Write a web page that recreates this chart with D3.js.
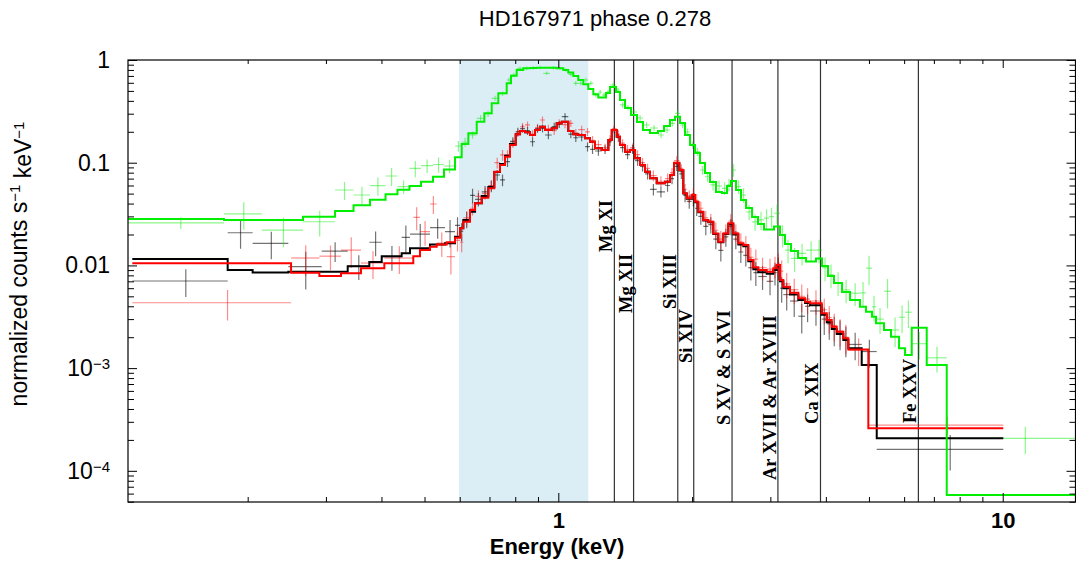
<!DOCTYPE html>
<html lang="en">
<head>
<meta charset="UTF-8">
<title>HD167971 phase 0.278</title>
<script src="https://d3js.org/d3.v7.min.js"></script>
<style>
  body { margin: 0; background: #fff; }
  svg { display: block; font-family: "Liberation Sans", Arial, sans-serif; }
  .tick line { stroke: #000; }
</style>
</head>
<body>
<svg id="chart" width="1076" height="562"></svg>
<script>
// ---- data (energies in keV, values in normalized counts s^-1 keV^-1, errors relative) ----

// bin edges shared by data sets 1 (black) and 2 (red) above 0.58 keV
const sharedEdges = [0.5855, 0.6009, 0.6113, 0.6329, 0.6496, 0.6725, 0.6959, 0.7178, 0.7393, 0.7587,
  0.7786, 0.8019, 0.8201, 0.8415, 0.8636, 0.8864, 0.9095, 0.9334, 0.9664, 0.9917,
  1.0178, 1.053, 1.0808, 1.109, 1.1483, 1.1785, 1.2095, 1.2522, 1.296, 1.319,
  1.3535, 1.3768, 1.413, 1.45, 1.4882, 1.5271, 1.5671, 1.6083, 1.6652, 1.7385,
  1.7838, 1.8214, 1.8723, 1.9112, 1.9451, 1.9962, 2.0305, 2.0654, 2.1194, 2.175,
  2.2324, 2.2909, 2.3514, 2.413, 2.4764, 2.541, 2.608, 2.676, 2.747, 2.8184,
  2.944, 3.046, 3.100, 3.154, 3.2085, 3.322, 3.468, 3.592, 3.685, 3.915,
  4.018, 4.123, 4.231, 4.379, 4.494];

// black
const blackLowEdges = [0.110, 0.1803, 0.2052, 0.2469, 0.2935, 0.3358, 0.3756, 0.4005, 0.4441, 0.4637, 0.5144, 0.5559];
const blackHighEdges = [4.816, 5.206, 10.03];
const blackModel = [0.01154, 0.00902, 0.00853, 0.00868, 0.00868, 0.0098, 0.01079, 0.0123, 0.0131, 0.0147, 0.0160, 0.0164,
  0.0190, 0.0230, 0.0277, 0.0333, 0.0404, 0.0474, 0.0580, 0.0812, 0.0971, 0.1170,
  0.1521, 0.1890, 0.2035, 0.1977, 0.1861, 0.2082, 0.2241, 0.2082, 0.2163, 0.2418,
  0.2507, 0.2035, 0.1890, 0.1861, 0.1728, 0.1601, 0.1381, 0.1330, 0.1663, 0.2082,
  0.1791, 0.1487, 0.1280, 0.1330, 0.1104, 0.0950, 0.0818, 0.0705, 0.0630, 0.0653,
  0.0759, 0.0990, 0.0840, 0.0500, 0.0446, 0.0480, 0.0413, 0.0330, 0.0274, 0.0263,
  0.0202, 0.0168, 0.0202, 0.0252, 0.0200, 0.0160, 0.0154, 0.0110, 0.0092, 0.0086,
  0.0083, 0.0090, 0.0098, 0.0070, 0.0060, 0.0052, 0.0046, 0.0043, 0.0041, 0.0033,
  0.0028, 0.0024, 0.00215, 0.00188,
  0.00156, 0.00107, 2.07e-4];
const blackData = [0.00705, 0.0208, 0.0164, 0.00971, 0.0138, 0.00987, 0.0168, 0.01216, 0.01878, 0.0202, 0.0233, 0.0213,
  0.0245, 0.0215, 0.0280, 0.048, 0.044, 0.052, 0.0593, 0.0759, 0.0679, 0.1023,
  0.161, 0.2007, 0.215, 0.205, 0.160, 0.215, 0.2163, 0.186, 0.225, 0.236,
  0.2805, 0.19, 0.175, 0.178, 0.1432, 0.135, 0.13, 0.135, 0.16, 0.21,
  0.175, 0.14, 0.12, 0.135, 0.105, 0.092, 0.078, 0.055, 0.052, 0.06,
  0.07, 0.092, 0.078, 0.048, 0.042, 0.044, 0.036, 0.030, 0.024, 0.025,
  0.018, 0.014, 0.019, 0.024, 0.018, 0.0135, 0.0125, 0.0095, 0.0085, 0.0078,
  0.0070, 0.0085, 0.0095, 0.0060, 0.0052, 0.0045, 0.0032, 0.0040, 0.0036, 0.0030,
  0.0027, 0.0024, 0.0022, 0.0019,
  0.0017, 0.00145, 1.62e-4];
const blackErr = [0.3, 0.3, 0.3, 0.4, 0.22, 0.27, 0.27, 0.27, 0.3, 0.25, 0.22, 0.3,
  0.2, 0.2, 0.18, 0.16, 0.15, 0.14, 0.13, 0.12, 0.13, 0.11,
  0.1, 0.09, 0.09, 0.09, 0.1, 0.09, 0.09, 0.09, 0.09, 0.08,
  0.08, 0.09, 0.09, 0.09, 0.1, 0.1, 0.1, 0.1, 0.09, 0.08,
  0.09, 0.1, 0.1, 0.1, 0.11, 0.11, 0.12, 0.13, 0.12, 0.13,
  0.12, 0.1, 0.11, 0.14, 0.15, 0.15, 0.16, 0.17, 0.18, 0.18,
  0.2, 0.22, 0.2, 0.18, 0.2, 0.22, 0.22, 0.25, 0.26, 0.26,
  0.27, 0.25, 0.25, 0.28, 0.3, 0.3, 0.32, 0.3, 0.28, 0.3,
  0.3, 0.32, 0.32, 0.33,
  0.3, 0.3, 0.38];

// red
const redLowEdges = [0.110, 0.2504, 0.29, 0.3243, 0.3597, 0.406, 0.4717, 0.4884, 0.5144, 0.5325, 0.5609];
const redHighEdges = [4.984, 10.03];
const redModel = [0.01048, 0.00849, 0.00788, 0.00838, 0.00937, 0.01048, 0.0123, 0.0141, 0.0152, 0.0160, 0.0168,
  0.0186, 0.0230, 0.0266, 0.0346, 0.0402, 0.0456, 0.0563, 0.0818, 0.0950, 0.1145,
  0.1487, 0.1890, 0.2035, 0.1977, 0.1861, 0.2082, 0.2241, 0.2082, 0.2163, 0.2418,
  0.2507, 0.2035, 0.1890, 0.1861, 0.1728, 0.1601, 0.1381, 0.1330, 0.1663, 0.2082,
  0.1791, 0.1487, 0.1280, 0.1330, 0.1104, 0.0950, 0.0818, 0.0705, 0.0630, 0.0653,
  0.0759, 0.1000, 0.0849, 0.0504, 0.0450, 0.0485, 0.0417, 0.0333, 0.0277, 0.0266,
  0.0205, 0.0170, 0.0205, 0.0257, 0.0205, 0.0164, 0.0158, 0.01129, 0.00958, 0.00902,
  0.00868, 0.00937, 0.01009, 0.00721, 0.00620, 0.00542, 0.00478, 0.00443, 0.00428, 0.00342,
  0.00294, 0.00253, 0.00226, 0.00195,
  0.00152, 2.593e-4];
const redData = [0.00433, 0.01181, 0.0123, 0.0141, 0.01055, 0.0118, 0.0294, 0.0213, 0.0396, 0.0165, 0.01216,
  0.0175, 0.0168, 0.0290, 0.036, 0.047, 0.050, 0.060, 0.10, 0.119, 0.120,
  0.155, 0.195, 0.224, 0.233, 0.19, 0.22, 0.2604, 0.215, 0.205, 0.245,
  0.235, 0.2418, 0.195, 0.21, 0.20, 0.165, 0.15, 0.14, 0.17, 0.215,
  0.19, 0.155, 0.135, 0.14, 0.12, 0.10, 0.088, 0.075, 0.066, 0.07,
  0.08, 0.105, 0.088, 0.055, 0.047, 0.05, 0.043, 0.036, 0.029, 0.027,
  0.022, 0.018, 0.021, 0.027, 0.021, 0.017, 0.016, 0.012, 0.0115, 0.0095,
  0.0092, 0.0098, 0.0105, 0.0088, 0.0066, 0.0058, 0.0050, 0.0047, 0.0045, 0.0037,
  0.0031, 0.0026, 0.0023, 0.0020,
  0.0015, 2.79e-4];
const redErr = [0.33, 0.33, 0.27, 0.33, 0.3, 0.3, 0.25, 0.27, 0.2, 0.27, 0.33,
  0.22, 0.2, 0.17, 0.15, 0.15, 0.13, 0.12, 0.12, 0.12, 0.1,
  0.1, 0.09, 0.09, 0.08, 0.09, 0.09, 0.08, 0.09, 0.09, 0.08,
  0.08, 0.08, 0.09, 0.09, 0.09, 0.1, 0.1, 0.09, 0.09, 0.08,
  0.09, 0.09, 0.1, 0.1, 0.1, 0.11, 0.11, 0.12, 0.12, 0.12,
  0.11, 0.1, 0.1, 0.13, 0.14, 0.14, 0.15, 0.16, 0.17, 0.17,
  0.19, 0.2, 0.19, 0.17, 0.19, 0.2, 0.21, 0.24, 0.24, 0.25,
  0.26, 0.24, 0.24, 0.27, 0.28, 0.28, 0.3, 0.28, 0.27, 0.28,
  0.3, 0.3, 0.3, 0.32,
  0.3, 0.2];

// green
const greenEdges = [0.106, 0.1769, 0.2151, 0.2664, 0.3145, 0.3461, 0.377, 0.4085, 0.4346, 0.4625,
  0.4909, 0.5224, 0.5531, 0.5855, 0.6062, 0.6274, 0.6553, 0.6817, 0.7082, 0.7328,
  0.7654, 0.7827, 0.806, 0.8341, 0.8636, 0.894, 0.9253, 0.9579, 0.9917, 1.0262,
  1.053, 1.0808, 1.109, 1.1383, 1.168, 1.1989, 1.2303, 1.254, 1.2805, 1.3073,
  1.3485, 1.3768, 1.413, 1.4577, 1.5036, 1.551, 1.6083, 1.6765, 1.7294, 1.7838,
  1.8308, 1.8791, 1.9281, 1.9788, 2.0305, 2.0839, 2.1381, 2.1946, 2.264, 2.3357,
  2.3968, 2.447, 2.5113, 2.577, 2.645, 2.729, 2.814, 2.903, 2.9801, 3.0575,
  3.154, 3.237, 3.339, 3.462, 3.61, 3.801, 3.921, 4.045, 4.172, 4.35,
  4.534, 4.774, 4.925, 5.08, 5.187, 5.406, 5.606, 5.844, 6.029, 6.241,
  6.745, 7.482, 15.0];
const greenModel = [0.0283, 0.02767, 0.02767, 0.0298, 0.03386, 0.03847, 0.04362, 0.04935, 0.05446, 0.0593,
  0.06531, 0.07305, 0.08587, 0.1129, 0.1521, 0.1933, 0.2507, 0.3027, 0.3788, 0.4739,
  0.5931, 0.7035, 0.7991, 0.8302, 0.836, 0.8414, 0.8414, 0.8414, 0.8302, 0.7991,
  0.7556, 0.6985, 0.6387, 0.58, 0.522, 0.4634, 0.4312, 0.4312, 0.4771, 0.546,
  0.488, 0.4078, 0.3408, 0.2913, 0.249, 0.2082, 0.1946, 0.2035, 0.2277, 0.2604,
  0.2805, 0.2435, 0.1861, 0.1487, 0.1243, 0.0993, 0.0794, 0.0649, 0.0519, 0.0508,
  0.0593, 0.0664, 0.0542, 0.0433, 0.0362, 0.0296, 0.0253, 0.02236, 0.02236, 0.02392,
  0.01977, 0.01616, 0.01381, 0.01181, 0.01091, 0.01167, 0.00987, 0.00788, 0.00674, 0.00551,
  0.0046, 0.00396, 0.00354, 0.00317, 0.00273, 0.00235, 0.00202, 0.00156, 0.00134, 0.00247,
  0.00107, 5.81e-5];
const greenData = [0.0260, 0.0317, 0.0221, 0.0266, 0.0542, 0.0485, 0.0597, 0.0742, 0.0584, 0.0882,
  0.0935, 0.096, 0.0929, 0.1454, 0.1591, 0.186, 0.2705, 0.300, 0.4237, 0.470,
  0.6387, 0.7146, 0.8302, 0.830, 0.8414, 0.845, 0.7424, 0.840, 0.830, 0.800,
  0.7258, 0.5931, 0.5931, 0.6387, 0.5931, 0.4561, 0.488, 0.456, 0.488, 0.5711,
  0.5104, 0.3651, 0.345, 0.3115, 0.2725, 0.2329, 0.2178, 0.1861, 0.2082, 0.2418,
  0.3027, 0.2329, 0.1991, 0.149, 0.128, 0.0849, 0.073, 0.0608, 0.0593, 0.0563,
  0.0608, 0.0849, 0.0584, 0.0485, 0.0331, 0.0265, 0.0277, 0.0289, 0.0298, 0.0322,
  0.0198, 0.0141, 0.0117, 0.0131, 0.0141, 0.0141, 0.0095, 0.0081, 0.0068, 0.00577,
  0.00536, 0.0054, 0.0094, 0.00396, 0.0030, 0.0056, 0.00235, 0.00313, 0.0035, 0.00173,
  0.00126, 2.07e-4];
const greenErr = [0.13, 0.3, 0.32, 0.28, 0.2, 0.2, 0.2, 0.2, 0.15, 0.18,
  0.15, 0.17, 0.15, 0.12, 0.1, 0.08, 0.08, 0.07, 0.06, 0.05,
  0.05, 0.05, 0.04, 0.04, 0.04, 0.04, 0.04, 0.04, 0.04, 0.04,
  0.05, 0.05, 0.05, 0.05, 0.05, 0.05, 0.05, 0.05, 0.05, 0.05,
  0.05, 0.06, 0.06, 0.06, 0.07, 0.07, 0.07, 0.07, 0.07, 0.07,
  0.07, 0.07, 0.08, 0.08, 0.09, 0.1, 0.1, 0.12, 0.13, 0.14,
  0.14, 0.14, 0.15, 0.16, 0.17, 0.18, 0.2, 0.22, 0.22, 0.22,
  0.24, 0.26, 0.26, 0.24, 0.22, 0.26, 0.26, 0.26, 0.26, 0.26,
  0.25, 0.28, 0.32, 0.28, 0.28, 0.32, 0.32, 0.3, 0.3, 0.3,
  0.28, 0.3];

// emission lines
const lineNames = ["Mg XI", "Mg XII", "Si XIII", "Si XIV", "S XV & S XVI", "Ar XVII & Ar XVIII", "Ca XIX", "Fe XXV"];
const lineEnergies = [1.337, 1.477, 1.857, 2.017, 2.46, 3.12, 3.89, 6.46];
const lineLabelStart = [0.0135, 0.00344, 0.00376, 0.00112, 2.79e-4, 8.14e-5, 2.86e-4, 2.92e-4];

// shaded band (keV)
const band = [0.598, 1.168];

// ticks
const xMajorTicks = [1, 10];
const xMinorTicks = [0.2, 0.3, 0.4, 0.5, 0.6, 0.7, 0.8, 0.9, 2, 3, 4, 5, 6, 7, 8, 9];
const yMajorTicks = [1, 0.1, 0.01, 1e-3, 1e-4];
const yTickLabels = [["1", ""], ["0.1", ""], ["0.01", ""], ["10", "\u22123"], ["10", "\u22124"]];
const yMinorTicks = [5e-5, 6e-5, 7e-5, 8e-5, 9e-5, 2e-4, 3e-4, 4e-4, 5e-4, 6e-4, 7e-4, 8e-4, 9e-4,
  2e-3, 3e-3, 4e-3, 5e-3, 6e-3, 7e-3, 8e-3, 9e-3, 0.02, 0.03, 0.04, 0.05, 0.06, 0.07, 0.08, 0.09,
  0.2, 0.3, 0.4, 0.5, 0.6, 0.7, 0.8, 0.9];

// ---- chart ----
const plotLeft = 128, plotRight = 1075.5, plotTop = 60, plotBottom = 502;
const svg = d3.select("#chart");

const x = d3.scaleLog().domain([0.10758, 14.58]).range([plotLeft, plotRight]);
const y = d3.scaleLog().domain([4.97e-5, 1]).range([plotBottom, plotTop]);

svg.append("defs").append("clipPath").attr("id", "plotclip")
  .append("rect").attr("x", plotLeft).attr("y", plotTop)
  .attr("width", plotRight - plotLeft).attr("height", plotBottom - plotTop);

const plot = svg.append("g").attr("clip-path", "url(#plotclip)");

// shaded band
plot.append("rect")
  .attr("x", x(band[0])).attr("y", plotTop)
  .attr("width", x(band[1]) - x(band[0])).attr("height", plotBottom - plotTop)
  .attr("fill", "#dbeef6");

// line markers
plot.selectAll("line.marker").data(lineEnergies).join("line")
  .attr("class", "marker")
  .attr("x1", d => x(d)).attr("x2", d => x(d))
  .attr("y1", plotTop).attr("y2", plotBottom)
  .attr("stroke", "#333").attr("stroke-width", 1.2);

function makeBins(edges, data, err) {
  return data.map((v, i) => ({ lo: edges[i], hi: edges[i + 1], v: v, e: err[i] }));
}

function drawData(edges, data, err, color, opacity) {
  const b = makeBins(edges, data, err);
  const g = plot.append("g").attr("stroke", color).attr("stroke-opacity", opacity).attr("stroke-width", 1.2);
  g.selectAll("line.h").data(b).join("line").attr("class", "h")
    .attr("x1", d => x(d.lo)).attr("x2", d => x(d.hi))
    .attr("y1", d => y(d.v)).attr("y2", d => y(d.v));
  g.selectAll("line.v").data(b).join("line").attr("class", "v")
    .attr("x1", d => x((d.lo + d.hi) / 2)).attr("x2", d => x((d.lo + d.hi) / 2))
    .attr("y1", d => y(d.v * (1 + d.e))).attr("y2", d => y(d.v * (1 - d.e)));
}

function drawModel(edges, model, color) {
  const pts = model.map((v, i) => [edges[i], v]);
  pts.push([edges[edges.length - 1], model[model.length - 1]]);
  const line = d3.line().x(d => x(d[0])).y(d => y(d[1])).curve(d3.curveStepAfter);
  plot.append("path").attr("d", line(pts))
    .attr("fill", "none").attr("stroke", color).attr("stroke-width", 2);
}

const blackEdges = blackLowEdges.concat(sharedEdges, blackHighEdges);
const redEdges = redLowEdges.concat(sharedEdges, redHighEdges);

drawData(blackEdges, blackData, blackErr, "#000", 0.55);
drawData(redEdges, redData, redErr, "#ff0000", 0.45);
drawData(greenEdges, greenData, greenErr, "#00ee00", 0.45);
drawModel(blackEdges, blackModel, "#000");
drawModel(redEdges, redModel, "#ff0000");
drawModel(greenEdges, greenModel, "#00ee00");

// frame
svg.append("rect")
  .attr("x", plotLeft).attr("y", plotTop)
  .attr("width", plotRight - plotLeft).attr("height", plotBottom - plotTop)
  .attr("fill", "none").attr("stroke", "#000").attr("stroke-width", 1.2);

// axes (ticks point inward)
function addAxis(axis, tx, ty) {
  const g = svg.append("g").attr("transform", `translate(${tx},${ty})`).call(axis);
  g.select(".domain").remove();
  return g;
}

const xb = addAxis(d3.axisBottom(x).tickValues(xMajorTicks).tickSizeInner(-9).tickSizeOuter(0)
  .tickPadding(10).tickFormat(d3.format("d")), 0, plotBottom);
xb.selectAll("text").attr("font-size", 22).attr("font-weight", "bold").attr("fill", "#000");
addAxis(d3.axisBottom(x).tickValues(xMinorTicks).tickSizeInner(-5).tickSizeOuter(0).tickFormat(""), 0, plotBottom);
addAxis(d3.axisTop(x).tickValues(xMajorTicks).tickSizeInner(-8).tickSizeOuter(0).tickFormat(""), 0, plotTop);
addAxis(d3.axisTop(x).tickValues(xMinorTicks).tickSizeInner(-4).tickSizeOuter(0).tickFormat(""), 0, plotTop);

const yl = addAxis(d3.axisLeft(y).tickValues(yMajorTicks).tickSizeInner(-9).tickSizeOuter(0)
  .tickPadding(18).tickFormat(""), plotLeft, 0);
yl.selectAll(".tick text").each(function (d) {
  const t = d3.select(this).attr("font-size", 23).attr("fill", "#000");
  const lab = yTickLabels[yMajorTicks.indexOf(d)];
  t.append("tspan").text(lab[0]);
  if (lab[1]) t.append("tspan").attr("dy", "-0.45em").attr("font-size", 15).text(lab[1]);
});
addAxis(d3.axisLeft(y).tickValues(yMinorTicks).tickSizeInner(-6).tickSizeOuter(0).tickFormat(""), plotLeft, 0);
addAxis(d3.axisRight(y).tickValues(yMajorTicks).tickSizeInner(-9).tickSizeOuter(0).tickFormat(""), plotRight, 0);
addAxis(d3.axisRight(y).tickValues(yMinorTicks).tickSizeInner(-6).tickSizeOuter(0).tickFormat(""), plotRight, 0);

// line labels
svg.append("g").selectAll("text").data(lineNames).join("text")
  .attr("transform", (d, i) => `translate(${x(lineEnergies[i]) - 2},${y(lineLabelStart[i])}) rotate(-90)`)
  .attr("font-family", "'Liberation Serif', 'Times New Roman', serif")
  .attr("font-weight", "bold").attr("font-size", 18.5)
  .text(d => d);

// title and axis labels
svg.append("text").attr("x", 595).attr("y", 26).attr("text-anchor", "middle")
  .attr("font-size", 22).text("HD167971 phase 0.278");

svg.append("text").attr("x", 557).attr("y", 554).attr("text-anchor", "middle")
  .attr("font-size", 22).attr("font-weight", "bold").text("Energy (keV)");

const ylab = svg.append("text")
  .attr("transform", "translate(27,264) rotate(-90)")
  .attr("text-anchor", "middle").attr("font-size", 23);
ylab.append("tspan").text("normalized counts s");
ylab.append("tspan").attr("dy", "-0.45em").attr("font-size", 15).text("\u22121");
ylab.append("tspan").attr("dy", "0.45em").text(" keV");
ylab.append("tspan").attr("dy", "-0.45em").attr("font-size", 15).text("\u22121");
</script>
</body>
</html>
